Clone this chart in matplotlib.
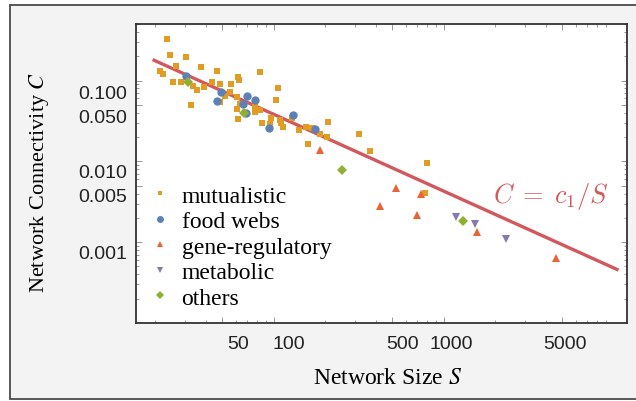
import matplotlib
matplotlib.use("Agg")
import matplotlib.pyplot as plt
import matplotlib.transforms as mtransforms
from matplotlib.patches import Rectangle
from matplotlib.lines import Line2D

# ---------------- data ----------------
mutualistic_S = [23.5, 24.5, 30.5, 21.4, 22.4, 26.5, 25.5, 28.4, 37.3, 46.4,
                 33.5, 35.6, 38.9, 43.4, 48.3, 32.5, 56.1, 61.4, 62.2, 83,
                 51.5, 55.3, 61.1, 48.3, 63.7, 60.5, 61.4, 77.6, 77.6, 82.8,
                 106, 103, 85.9, 94.7, 96.9, 109, 110, 113.5, 128, 142,
                 156, 169, 187, 205, 208, 159, 316, 368, 802, 776]
mutualistic_C = [0.330, 0.205, 0.198, 0.132, 0.121, 0.150, 0.097, 0.0945, 0.146, 0.132,
                 0.086, 0.0753, 0.0836, 0.0945, 0.091, 0.0496, 0.091, 0.110, 0.102, 0.129,
                 0.0647, 0.0711, 0.0622, 0.0535, 0.0506, 0.0448, 0.0333, 0.0473, 0.0406, 0.0427,
                 0.0813, 0.0566, 0.0301, 0.0286, 0.0347, 0.0324, 0.0297, 0.0263, 0.0347, 0.0246,
                 0.0263, 0.0255, 0.0216, 0.0200, 0.0309, 0.0164, 0.0216, 0.0135, 0.00944, 0.00411]

foodweb_S = [30.5, 46.4, 49.2, 69.3, 77.6, 65.8, 68.7, 93.5, 130, 176]
foodweb_C = [0.114, 0.0555, 0.0725, 0.064, 0.0566, 0.0506, 0.0392, 0.0261, 0.037, 0.0248]

genereg_S = [187, 527, 732, 420, 693, 1578, 4560]
genereg_C = [0.0137, 0.00464, 0.00399, 0.00284, 0.00217, 0.00133, 0.00063]

metabolic_S = [1178, 1541, 2339]
metabolic_C = [0.00207, 0.00167, 0.0011]

others_S = [31.5, 66.8, 251, 1300]
others_C = [0.0945, 0.0395, 0.00782, 0.00185]

fit_S = [19.4, 10700]
fit_C = [0.1815, 0.000451]

xtick_vals = [50, 100, 500, 1000, 5000]
xtick_labels = ["50", "100", "500", "1000", "5000"]
ytick_vals = [0.1, 0.05, 0.01, 0.005, 0.001]
ytick_labels = ["0.100", "0.050", "0.010", "0.005", "0.001"]

# label offsets (pixels) seen in the reference
xlab_dx = [16, 15, 10, 8, 3]
ylab_dy = [-11, -10.5, -9, -8.5, -9]

# ---------------- style ----------------
c_mut = "#E19C24"
c_food = "#5E81B5"
c_gene = "#EB6235"
c_meta = "#8778B3"
c_oth = "#8FB032"
c_fit = "#D3585D"

W, H, DPI = 636, 402, 100
fig = plt.figure(figsize=(W / DPI, H / DPI), dpi=DPI, facecolor="white")

# outer panel frame
fig.patches.append(Rectangle((10 / W, 2.5 / H), 1.2, 1 - 8.5 / H, transform=fig.transFigure,
                             facecolor="#F3F3F3", edgecolor="#4a4a4a", lw=1.3, zorder=-10))

ax = fig.add_axes([136 / W, 1 - 324 / H, (627 - 136) / W, (324 - 25) / H])
ax.set_facecolor("white")
ax.set_xscale("log")
ax.set_yscale("log")
ax.set_xlim(15.5, 12000)
ax.set_ylim(1e-4, 0.5)

ax.plot(fit_S, fit_C, color=c_fit, lw=2.4, solid_capstyle="butt", zorder=3)

ms_kw = dict(linestyle="none", markeredgewidth=0, zorder=4)
ax.plot(mutualistic_S, mutualistic_C, marker="s", ms=4.5, color=c_mut, **ms_kw)
ax.plot(foodweb_S, foodweb_C, marker="o", ms=6.0, color=c_food, **ms_kw)
ax.plot(genereg_S, genereg_C, marker="^", ms=6.3, color=c_gene, **ms_kw)
ax.plot(metabolic_S, metabolic_C, marker="v", ms=6.3, color=c_meta, **ms_kw)
ax.plot(others_S, others_C, marker="D", ms=4.8, color=c_oth, **ms_kw)

for sp in ax.spines.values():
    sp.set_color("#333333")
    sp.set_linewidth(1.3)

ax.tick_params(which="both", direction="in", top=True, right=True, color="#888888", width=0.6)
ax.tick_params(which="major", length=4)
ax.tick_params(which="minor", length=2.5)
ax.tick_params(axis="x", which="major", pad=8.5, labelsize=14, labelcolor="#222222")
ax.tick_params(axis="y", which="major", pad=6.5, labelsize=14, labelcolor="#222222")

ax.set_xticks(xtick_vals)
ax.set_xticklabels(xtick_labels, fontfamily="Liberation Sans")
ax.set_yticks(ytick_vals)
ax.set_yticklabels(ytick_labels, fontfamily="Liberation Sans")

for lab, dx in zip(ax.get_xticklabels(), xlab_dx):
    lab.set_transform(lab.get_transform() + mtransforms.Affine2D().translate(dx, 0))
for lab, dy in zip(ax.get_yticklabels(), ylab_dy):
    lab.set_transform(lab.get_transform() + mtransforms.Affine2D().translate(0, dy))

ax.set_xlabel("Network Size $S$", fontfamily="Liberation Serif", fontsize=17,
              math_fontfamily="stix")
ax.set_ylabel("Network Connectivity $C$", fontfamily="Liberation Serif", fontsize=16,
              math_fontfamily="stix")
ax.xaxis.set_label_coords((388 - 136) / 491, (324 - 368) / 299)
ax.yaxis.set_label_coords((51 - 136) / 491, (324 - 182) / 299)

ax.text((493 - 136) / 491, (324 - 196) / 299, r"$C\;=\;c_1/S$", transform=ax.transAxes,
        color=c_fit, fontsize=19, math_fontfamily="cm", ha="left", va="center")

handles = [
    Line2D([], [], marker="s", ms=3.5, color=c_mut, ls="none", mew=0),
    Line2D([], [], marker="o", ms=5.0, color=c_food, ls="none", mew=0),
    Line2D([], [], marker="^", ms=5.0, color=c_gene, ls="none", mew=0),
    Line2D([], [], marker="v", ms=5.0, color=c_meta, ls="none", mew=0),
    Line2D([], [], marker="D", ms=4.2, color=c_oth, ls="none", mew=0),
]
labels = ["mutualistic", "food webs", "gene-regulatory", "metabolic", "others"]
ax.legend(handles, labels, loc="upper left", bbox_to_anchor=((152 - 136) / 491, (324 - 186) / 299),
          frameon=False, prop={"family": "Liberation Serif", "size": 17},
          handlelength=0.7, handletextpad=0.55, labelspacing=0.17, borderpad=0, borderaxespad=0)

fig.savefig("out.png", dpi=DPI, facecolor=fig.get_facecolor())
